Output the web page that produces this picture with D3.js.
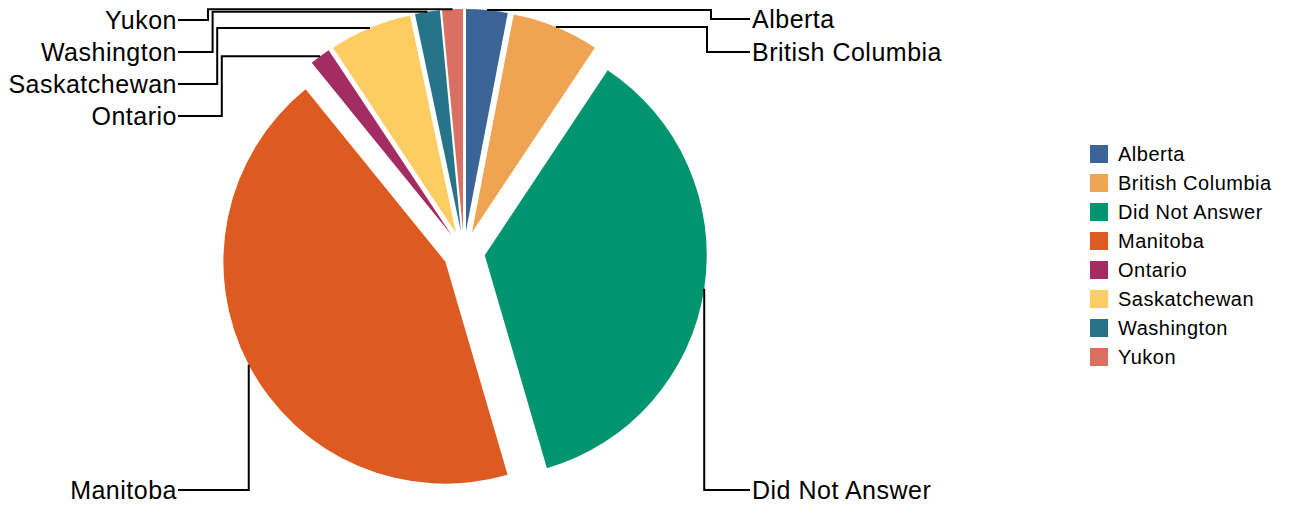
<!DOCTYPE html>
<html>
<head>
<meta charset="utf-8">
<script src="https://cdn.jsdelivr.net/npm/d3@7"></script>
<style>
  html, body { margin: 0; padding: 0; background: #fff; }
  svg { display: block; }
  text { font-family: "Liberation Sans", Arial, sans-serif; fill: #000; }
</style>
</head>
<body>
<svg id="chart" width="1289" height="506"></svg>
<script>
const categories = ["Alberta", "British Columbia", "Did Not Answer", "Manitoba", "Ontario", "Saskatchewan", "Washington", "Yukon"];
const values = [10, 21, 120, 145, 5, 20, 6, 5];
const colors = ["#3A6596", "#EFA453", "#01956F", "#DD5A20", "#A32C62", "#FDCD63", "#27748A", "#DA7061"];

const W = 1289, H = 506;
const cx = 464, cy = 252, R = 222, explode = 21;

const svg = d3.select("#chart");
const data = categories.map((c, i) => ({ name: c, value: values[i], color: colors[i] }));

const pie = d3.pie().sort(null).value(d => d.value);
const arcs = pie(data);
const arc = d3.arc().innerRadius(0).outerRadius(R);

const g = svg.append("g").attr("transform", `translate(${cx},${cy})`);

g.selectAll("path.slice").data(arcs).enter().append("path")
  .attr("class", "slice")
  .attr("d", arc)
  .attr("fill", d => d.data.color)
  .attr("transform", d => {
    const m = (d.startAngle + d.endAngle) / 2;
    return `translate(${explode * Math.sin(m)},${-explode * Math.cos(m)})`;
  });

// leader lines and labels
const items = arcs.map(d => {
  const m = (d.startAngle + d.endAngle) / 2;
  return {
    d, m,
    ax: cx + (explode + R) * Math.sin(m),
    ay: cy - (explode + R) * Math.cos(m),
    right: m < Math.PI
  };
});

const bottomY = 490;
const rightTextX = 752, leftTextX = 177;
const rightSmall = items.filter(it => it.right && it.ay < cy).sort((a, b) => a.m - b.m);
const leftSmall = items.filter(it => !it.right && it.ay < cy).sort((a, b) => b.m - a.m);

rightSmall.forEach((it, i) => { it.ly = 19 + 33 * i; it.col = Math.max(it.ax, 711 - 4 * i); });
leftSmall.forEach((it, i) => { it.ly = 20 + 32 * i; it.col = Math.min(it.ax, 208 + 4.6 * i); });
items.filter(it => it.ay >= cy).forEach(it => { it.ly = bottomY; it.col = it.ax; });

const lines = svg.append("g");
items.forEach(it => {
  const endX = it.right ? rightTextX - 2 : leftTextX + 1;
  const p = d3.path();
  p.moveTo(it.ax, it.ay);
  p.lineTo(it.col, it.ay);
  p.lineTo(it.col, it.ly);
  p.lineTo(endX, it.ly);
  lines.append("path")
    .attr("d", p.toString())
    .attr("fill", "none")
    .attr("stroke", "#000")
    .attr("stroke-width", 2);
  svg.append("text")
    .attr("x", it.right ? rightTextX : leftTextX)
    .attr("y", it.ly)
    .attr("dy", "0.35em")
    .attr("text-anchor", it.right ? "start" : "end")
    .style("font-size", "25px")
    .style("letter-spacing", "0.5px")
    .text(it.d.data.name);
});

// legend
const legend = svg.append("g").attr("transform", "translate(1090,154)");
const row = legend.selectAll("g").data(data).enter().append("g")
  .attr("transform", (d, i) => `translate(0,${i * 29})`);
row.append("rect").attr("x", 0).attr("y", -9).attr("width", 18).attr("height", 18)
  .attr("fill", d => d.color);
row.append("text").attr("x", 28).attr("y", 0).attr("dy", "0.35em")
  .style("font-size", "20px")
  .style("letter-spacing", "0.5px")
  .text(d => d.name);
</script>
</body>
</html>
